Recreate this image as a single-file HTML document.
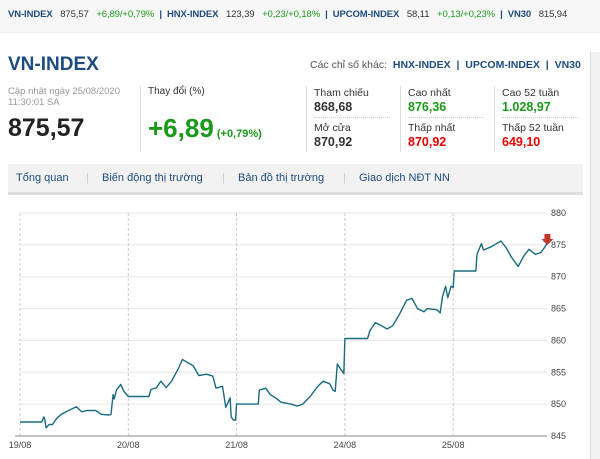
<!DOCTYPE html>
<html><head><meta charset="utf-8"><style>
body{margin:0;width:600px;height:459px;overflow:hidden;background:#fff;font-family:"Liberation Sans",sans-serif;position:relative}
.a{position:absolute;white-space:nowrap}
.g{color:#1a9a1a}.r{color:#e00}.b{color:#1d4b80}
.sep{position:absolute;width:1px;background:#ddd}
</style></head><body>
<div class="a" style="left:0;top:0;width:600px;height:32px;background:#f7f7f7;border-bottom:1px solid #eee"></div>
<div class="a" style="left:8px;top:9px;font-size:9.5px;color:#1d4b80;font-weight:bold;letter-spacing:-0.1px">VN-INDEX&nbsp;&nbsp; <span style="color:#333;font-weight:normal">875,57</span>&nbsp;&nbsp; <span class="g" style="font-weight:normal">+6,89/+0,79%</span>&nbsp; | &nbsp;HNX-INDEX&nbsp;&nbsp; <span style="color:#333;font-weight:normal">123,39</span>&nbsp;&nbsp; <span class="g" style="font-weight:normal">+0,23/+0,18%</span>&nbsp; | &nbsp;UPCOM-INDEX&nbsp;&nbsp; <span style="color:#333;font-weight:normal">58,11</span>&nbsp;&nbsp; <span class="g" style="font-weight:normal">+0,13/+0,23%</span>&nbsp; | &nbsp;VN30&nbsp;&nbsp; <span style="color:#333;font-weight:normal">815,94</span></div>
<div class="a" style="left:590px;top:52px;width:10px;height:407px;background:#f2f2f2;border-left:1px solid #ddd"></div>
<div class="a b" style="left:8px;top:54px;font-size:19px;font-weight:bold">VN-INDEX</div>
<div class="a" style="left:310px;top:59px;font-size:10.5px;color:#555">Các chỉ số khác:&nbsp; <b class="b">HNX-INDEX</b> <b class="b">&nbsp;|&nbsp;</b> <b class="b">UPCOM-INDEX</b> <b class="b">&nbsp;|&nbsp;</b> <b class="b">VN30</b></div>
<div class="a" style="left:8px;top:86px;font-size:9.5px;color:#999;line-height:11px">Cập nhật ngày 25/08/2020<br>11:30:01 SA</div>
<div class="a" style="left:8px;top:114px;font-size:25px;font-weight:bold;color:#222">875,57</div>
<div class="sep" style="left:140px;top:86px;height:66px"></div>
<div class="a" style="left:148px;top:86px;font-size:10px;color:#333">Thay đổi (%)</div>
<div class="a g" style="left:148px;top:113px;font-size:26px;font-weight:bold">+6,89<span style="font-size:11px"> (+0,79%)</span></div>
<div class="sep" style="left:306px;top:86px;height:66px"></div>
<div class="sep" style="left:400px;top:86px;height:66px"></div>
<div class="sep" style="left:494px;top:86px;height:66px"></div>
<div class="a" style="left:314px;top:86px;font-size:10.5px;line-height:14px;color:#333">Tham chiếu<br><b style="font-size:12.5px">868,68</b></div>
<div class="a" style="left:314px;top:121px;font-size:10.5px;line-height:14px;color:#333">Mở cửa<br><b style="font-size:12.5px">870,92</b></div>
<div class="a" style="left:408px;top:86px;font-size:10.5px;line-height:14px;color:#333">Cao nhất<br><b class="g" style="font-size:12.5px">876,36</b></div>
<div class="a" style="left:408px;top:121px;font-size:10.5px;line-height:14px;color:#333">Thấp nhất<br><b class="r" style="font-size:12.5px">870,92</b></div>
<div class="a" style="left:502px;top:86px;font-size:10.5px;line-height:14px;color:#333">Cao 52 tuần<br><b class="g" style="font-size:12.5px">1.028,97</b></div>
<div class="a" style="left:502px;top:121px;font-size:10.5px;line-height:14px;color:#333">Thấp 52 tuần<br><b class="r" style="font-size:12.5px">649,10</b></div>
<div class="a" style="left:314px;top:117px;width:76px;border-top:1px dotted #ccc"></div>
<div class="a" style="left:408px;top:117px;width:76px;border-top:1px dotted #ccc"></div>
<div class="a" style="left:502px;top:117px;width:76px;border-top:1px dotted #ccc"></div>
<div class="a" style="left:8px;top:164px;width:575px;height:28px;background:#f2f2f2;border-bottom:3px solid #ddd"></div>
<div class="a b" style="left:16px;top:172px;font-size:11px">Tổng quan</div>
<div class="a" style="left:86px;top:172px;font-size:11px;color:#ccc">|</div>
<div class="a b" style="left:102px;top:172px;font-size:11px">Biến động thị trường</div>
<div class="a" style="left:222px;top:172px;font-size:11px;color:#ccc">|</div>
<div class="a b" style="left:238px;top:172px;font-size:11px">Bản đồ thị trường</div>
<div class="a" style="left:343px;top:172px;font-size:11px;color:#ccc">|</div>
<div class="a b" style="left:359px;top:172px;font-size:11px">Giao dịch NĐT NN</div>
<svg class="a" style="left:0;top:0" width="600" height="459">
<g id="grid"></g><g id="axes"></g><path id="line" fill="none" stroke="#1a6a80" stroke-width="1.4" stroke-linejoin="round"/>
<polygon id="marker" fill="#c0392b"/>
</svg>
<script>
const times=[0,0.2,0.22,0.23,0.24,0.27,0.3,0.34,0.39,0.45,0.52,0.57,0.62,0.7,0.75,0.82,0.84,0.86,0.87,0.89,0.93,0.96,1.0,1.19,1.21,1.26,1.3,1.35,1.4,1.46,1.5,1.55,1.6,1.65,1.72,1.78,1.81,1.87,1.9,1.94,1.95,1.97,1.99,2.0,2.2,2.21,2.27,2.31,2.36,2.41,2.5,2.56,2.61,2.68,2.75,2.8,2.86,2.89,2.91,2.93,2.96,2.99,3.0,3.21,3.23,3.28,3.34,3.39,3.44,3.5,3.57,3.62,3.67,3.73,3.76,3.85,3.88,3.9,3.93,3.95,3.98,4.0,4.01,4.21,4.22,4.26,4.28,4.35,4.44,4.49,4.54,4.6,4.65,4.7,4.76,4.81,4.84,4.87];
const values=[847.2,847.2,848,847.5,846.3,846.8,846.8,847.8,848.5,849,849.6,848.8,849,849,848.4,848.3,848.4,851.5,850.8,852.2,853.1,852,851.2,851.2,852.3,852.6,853.6,852.6,853.6,855.5,857,856.5,856,854.5,854.7,854.4,852.5,852.8,849.5,851,848,847.5,847.5,850,850,852.2,852.5,851.5,851,850.3,850,849.7,850,851.2,852.8,853.6,853.2,852.2,852,856.3,855.5,854.8,860.3,860.3,861.5,862.8,862.3,861.8,862.3,864,866.3,866.6,865,864.5,865,864.8,864.3,866.8,868.5,866.7,868.5,868.3,870.9,870.9,873.5,875.2,874.2,874.7,875.6,874.5,873,871.6,873.2,874.3,873.5,873.8,874.5,875.3];
const dayLabels=["19/08","20/08","21/08","24/08","25/08"];
const yTicks=[845,850,855,860,865,870,875,880];
const X0=20,DW=108.3,Y0=436,Y1=213,VMIN=845,VMAX=880;
const xs=t=>X0+t*DW, ys=v=>Y0-(v-VMIN)/(VMAX-VMIN)*(Y0-Y1);
const NS="http://www.w3.org/2000/svg";
const grid=document.getElementById('grid'),axes=document.getElementById('axes');
function mk(tag,at,parent){const e=document.createElementNS(NS,tag);for(const k in at)e.setAttribute(k,at[k]);parent.appendChild(e);return e;}
yTicks.forEach(v=>{const l=mk('line',{x1:X0,x2:547,y1:ys(v),y2:ys(v),stroke:'#e6e6e6'},grid);


const t=mk('text',{x:551,y:ys(v)+3,'font-size':9,fill:'#444'},axes);t.textContent=v;

});
dayLabels.forEach((d,i)=>{const l=mk('line',{x1:xs(i),x2:xs(i),y1:Y1,y2:Y0,stroke:'#ccc','stroke-dasharray':'3,2'},grid);


const t=mk('text',{x:xs(i),y:448,'font-size':9,fill:'#444','text-anchor':'middle'},axes);t.textContent=d;

});
mk('line',{x1:X0-5,x2:547,y1:Y0,y2:Y0,stroke:'#888'},axes);
let d='';times.forEach((t,i)=>{const x=xs(t),y=ys(values[i]);d+=(i==0?'M':' L')+x.toFixed(1)+','+y.toFixed(1);});
document.getElementById('line').setAttribute('d',d);
const lx=xs(times[times.length-1]),ly=ys(values[values.length-1]);
document.getElementById('marker').setAttribute('points',`${lx-3},${ly-9} ${lx+3},${ly-9} ${lx+3},${ly-4} ${lx+6},${ly-4} ${lx},${ly+2} ${lx-6},${ly-4} ${lx-3},${ly-4}`);
</script>
</body></html>
